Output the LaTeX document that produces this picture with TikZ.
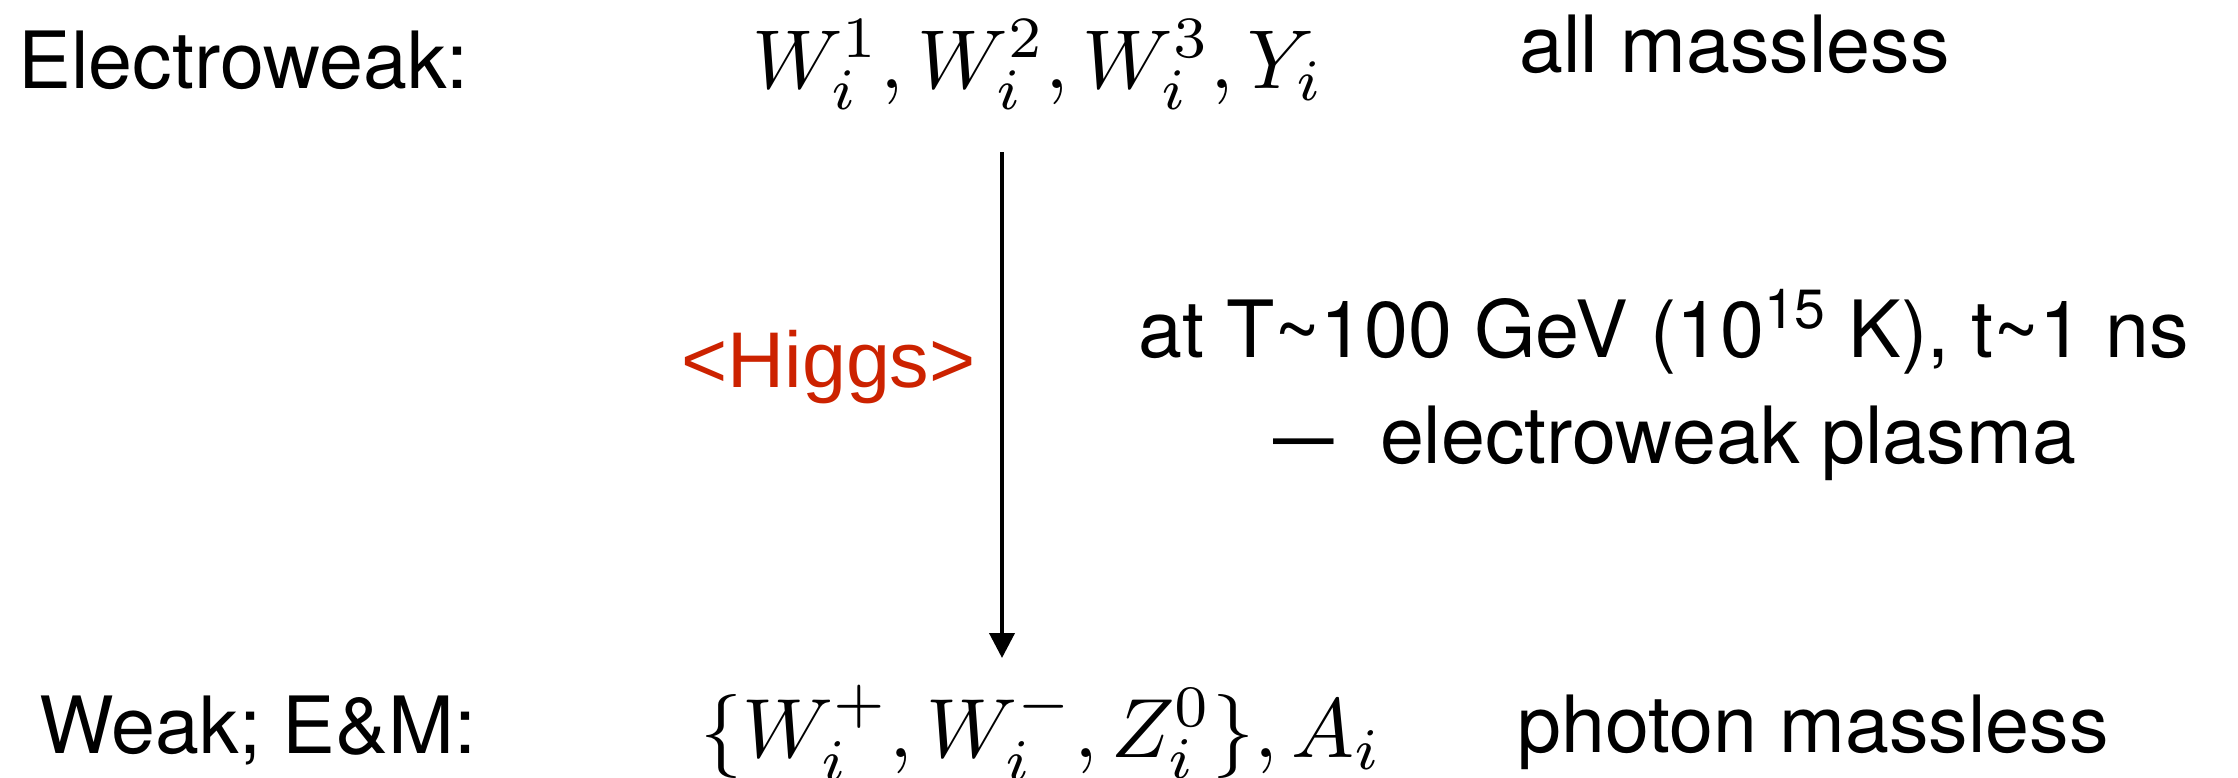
\RequirePackage{fix-cm}
\documentclass[tikz,border=0pt]{standalone}
\usepackage{graphicx}
\usepackage[no-math]{fontspec}
\setmainfont{TeX Gyre Heros}
\newfontfamily\arialfont{Liberation Sans}
\usetikzlibrary{arrows.meta}
\definecolor{higgsred}{RGB}{204,34,0}
\begin{document}
\begin{tikzpicture}[x=0.5pt,y=-0.5pt,
  lbl/.style={inner sep=0pt, anchor=base west, font=\fontsize{39.5}{47}\selectfont},
  mth/.style={inner sep=0pt, anchor=base west, font=\fontsize{10}{12}\selectfont},
  flow/.style={line width=2pt, -{Triangle[length=12.5pt,width=12.5pt]}}]
\useasboundingbox (0,0) rectangle (2238,777);
% top row
\node[lbl] (ew) at (18,88) {Electroweak:};
\node[mth] (ewf) at (752,88) {\scalebox{4.18}{$W_i^1, W_i^2, W_i^3, Y_i$}};
\node[lbl] (ewm) at (1519,72) {all massless};
% middle
\node[lbl, text=higgsred, font=\fontsize{39.5}{47}\arialfont] (higgs) at (681,387) {<Higgs>};
\node[lbl] (cond1) at (1138,357) {at T\textasciitilde100 GeV (10\textsuperscript{15} K), t\textasciitilde1 ns};
\node[lbl] (cond2) at (1273,463) {\scalebox{1.38}[1]{–}\hspace{23pt}electroweak plasma};
% bottom row
\node[lbl] (wk) at (39,753) {Weak; E\&M:};
\node[mth] (wkf) at (700,757) {\scalebox{4.2}{$\{W_i^+, W_i^-, Z_i^0\}, A_i$}};
\node[lbl] (wkm) at (1517,752) {photon massless};
% arrow
\coordinate (atop) at (1002,152);
\coordinate (abot) at (1002,658);
\draw[flow] (atop) -- (abot);
\end{tikzpicture}
\end{document}
